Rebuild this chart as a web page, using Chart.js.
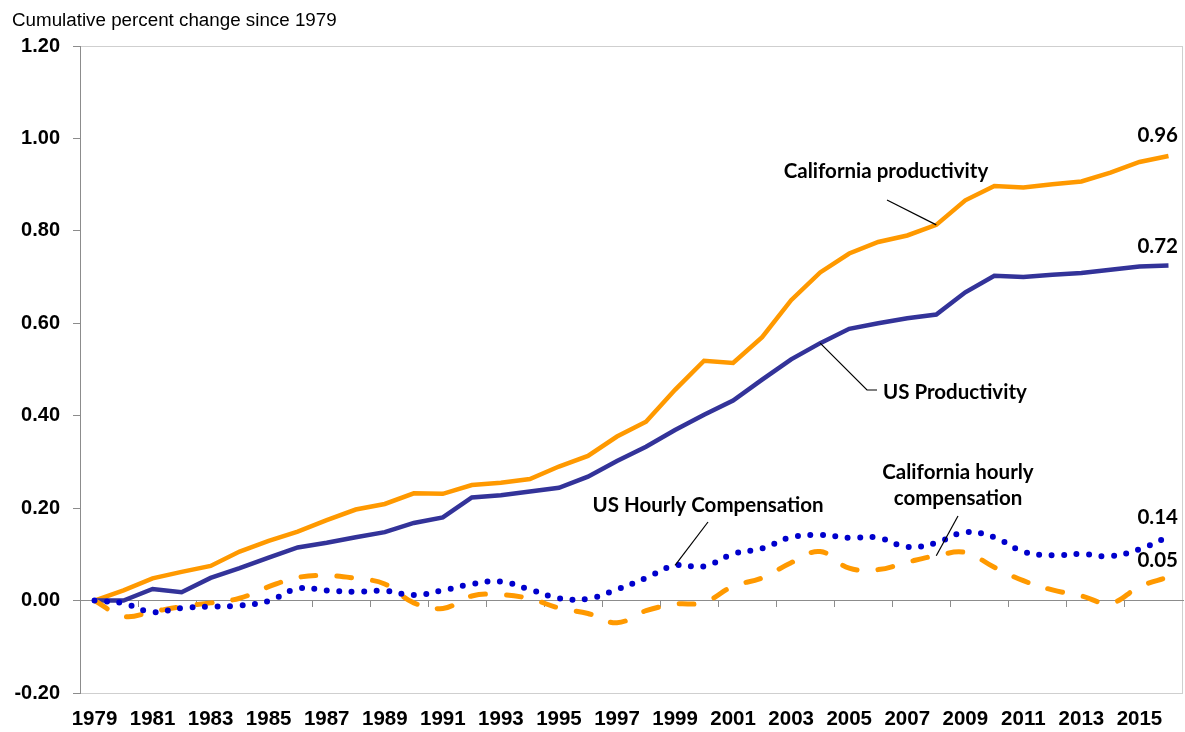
<!DOCTYPE html>
<html>
<head>
<meta charset="utf-8">
<script src="https://cdn.jsdelivr.net/npm/chart.js@4"></script>
<style>
  html, body { margin: 0; padding: 0; background: #fff; }
  #wrap { width: 1185px; height: 732px; position: relative; }
</style>
</head>
<body>
<div id="wrap"><canvas id="chart"></canvas></div>
<script>
// years on the category axis (every other one gets a label)
var years = ['1979', '1980', '1981', '1982', '1983', '1984', '1985', '1986', '1987', '1988',
             '1989', '1990', '1991', '1992', '1993', '1994', '1995', '1996', '1997', '1998',
             '1999', '2000', '2001', '2002', '2003', '2004', '2005', '2006', '2007', '2008',
             '2009', '2010', '2011', '2012', '2013', '2014', '2015', '2016'];

// cumulative change since 1979
var caProductivity = [0, 0.022, 0.048, 0.062, 0.075, 0.106, 0.129, 0.149, 0.174, 0.197,
                      0.209, 0.232, 0.231, 0.250, 0.255, 0.263, 0.290, 0.313, 0.355, 0.387,
                      0.456, 0.519, 0.514, 0.570, 0.650, 0.710, 0.751, 0.776, 0.790, 0.813,
                      0.866, 0.897, 0.894, 0.901, 0.907, 0.926, 0.949, 0.962];
var usProductivity = [0, 0.000, 0.025, 0.018, 0.049, 0.070, 0.093, 0.115, 0.125, 0.137,
                      0.148, 0.168, 0.180, 0.223, 0.228, 0.236, 0.244, 0.268, 0.302, 0.333,
                      0.369, 0.402, 0.433, 0.478, 0.522, 0.557, 0.588, 0.600, 0.611, 0.619,
                      0.667, 0.703, 0.700, 0.705, 0.709, 0.716, 0.723, 0.725];
var usCompensation = [0, -0.006, -0.025, -0.016, -0.013, -0.011, -0.001, 0.026, 0.022, 0.019,
                      0.021, 0.012, 0.022, 0.036, 0.041, 0.024, 0.005, 0.004, 0.024, 0.049,
                      0.076, 0.074, 0.101, 0.113, 0.137, 0.142, 0.136, 0.136, 0.116, 0.125,
                      0.148, 0.137, 0.106, 0.098, 0.101, 0.096, 0.111, 0.138];
var caCompensation = [0, -0.034, -0.024, -0.013, -0.005, 0.005, 0.030, 0.050, 0.054, 0.048,
                      0.036, -0.005, -0.017, 0.010, 0.013, 0.004, -0.016, -0.028, -0.048, -0.022,
                      -0.008, -0.004, 0.031, 0.049, 0.082, 0.106, 0.070, 0.067, 0.083, 0.097,
                      0.104, 0.072, 0.043, 0.023, 0.010, -0.006, 0.030, 0.051];

var yMin = -0.2, yMax = 1.2, yStep = 0.2;

var ORANGE = '#FF9900';
var NAVY = '#333399';
var BLUE = '#0000CC';
var AXIS_GREY = '#8c8c8c';
var FRAME_GREY = '#cfcfcf';
var NOTE_FONT = 'bold 20.5px Lato, "Open Sans", sans-serif';

Chart.defaults.font.family = '"Liberation Sans", Arial, sans-serif';
Chart.defaults.color = '#000';

// light frame round the plot area, drawn before the axes
var framePlugin = {
  id: 'frame',
  beforeDraw: function (chart) {
    var a = chart.chartArea, ctx = chart.ctx;
    ctx.save();
    ctx.strokeStyle = FRAME_GREY;
    ctx.lineWidth = 1;
    ctx.strokeRect(a.left + 0.5, a.top + 0.5, a.right - a.left - 1, a.bottom - a.top);
    ctx.restore();
  }
};

// title, series callouts and end-of-line values
var notesPlugin = {
  id: 'notes',
  afterDatasetsDraw: function (chart) {
    var ctx = chart.ctx, x = chart.scales.x, y = chart.scales.y;
    var pt = function (i, arr) { return [x.getPixelForValue(i), y.getPixelForValue(arr[i])]; };
    var line = function (pts) {
      ctx.beginPath();
      ctx.moveTo(pts[0][0], pts[0][1]);
      for (var k = 1; k < pts.length; k++) ctx.lineTo(pts[k][0], pts[k][1]);
      ctx.stroke();
    };

    ctx.save();
    ctx.fillStyle = '#000';
    ctx.textBaseline = 'middle';
    ctx.font = '18.8px "Liberation Sans", Arial, sans-serif';
    ctx.textAlign = 'left';
    ctx.fillText('Cumulative percent change since 1979', 12, 21);

    ctx.strokeStyle = '#000';
    ctx.lineWidth = 1.2;

    ctx.font = NOTE_FONT;
    ctx.textAlign = 'center';
    ctx.fillText('California productivity', 886, 171);
    line([[887, 200], pt(29, caProductivity)]);

    ctx.textAlign = 'left';
    ctx.fillText('US Productivity', 883, 392);
    line([pt(25, usProductivity), [867, 390], [877, 390]]);

    ctx.textAlign = 'center';
    ctx.fillText('US Hourly Compensation', 708, 505);
    line([[708, 522], pt(20, usCompensation)]);

    ctx.fillText('California hourly', 958, 472);
    ctx.fillText('compensation', 958, 498);
    line([[958, 516], pt(29, caCompensation)]);

    // end values
    ctx.textAlign = 'right';
    var last = years.length - 1;
    [[caProductivity, -21], [usProductivity, -19], [usCompensation, -19], [caCompensation, -17]].forEach(function (s) {
      var p = pt(last, s[0]);
      ctx.fillText(s[0][last].toFixed(2), 1178, p[1] + s[1]);
    });
    ctx.restore();
  }
};

new Chart(document.getElementById('chart'), {
  type: 'line',
  data: {
    labels: years,
    datasets: [
      {
        label: 'US Hourly Compensation',
        data: usCompensation,
        borderColor: BLUE,
        borderWidth: 6,
        borderDash: [0, 12.5],
        borderCapStyle: 'round',
        tension: 0.4,
        pointRadius: 0
      },
      {
        label: 'California hourly compensation',
        data: caCompensation,
        borderColor: ORANGE,
        borderWidth: 5,
        borderDash: [15, 21],
        borderCapStyle: 'round',
        tension: 0.4,
        pointRadius: 0
      },
      {
        label: 'US Productivity',
        data: usProductivity,
        borderColor: NAVY,
        borderWidth: 4.5,
        tension: 0,
        pointRadius: 0
      },
      {
        label: 'California productivity',
        data: caProductivity,
        borderColor: ORANGE,
        borderWidth: 4.5,
        tension: 0,
        pointRadius: 0
      }
    ]
  },
  options: {
    responsive: true,
    maintainAspectRatio: false,
    animation: false,
    devicePixelRatio: 1,
    layout: { padding: { top: 46, right: 2, left: 0, bottom: 0 } },
    plugins: {
      legend: { display: false },
      tooltip: { enabled: false }
    },
    scales: {
      x: {
        type: 'category',
        offset: true,
        grid: { display: false, drawTicks: false },
        border: { display: false },
        ticks: {
          autoSkip: false,
          maxRotation: 0,
          minRotation: 0,
          padding: 14,
          font: { size: 20.5, weight: 'bold' },
          callback: function (v, i) { return i % 2 === 0 ? years[i] : ''; }
        },
        afterFit: function (s) { s.height = 39; }
      },
      // horizontal axis line crossing at zero, ticks every two years
      xZero: {
        type: 'category',
        position: { y: 0 },
        offset: true,
        grid: {
          offset: true,
          drawOnChartArea: false,
          tickLength: 6,
          color: function (c) {
            return (c.index > 0 && c.index % 2 === 0 && c.index < years.length) ? AXIS_GREY : 'rgba(0,0,0,0)';
          }
        },
        border: { color: AXIS_GREY, width: 1 },
        ticks: { display: false }
      },
      y: {
        min: yMin,
        max: yMax,
        grid: { drawOnChartArea: false, tickLength: 7, color: AXIS_GREY },
        border: { color: AXIS_GREY, width: 1 },
        ticks: {
          stepSize: yStep,
          padding: 13,
          font: { size: 20, weight: 'bold' },
          callback: function (v) { return (Math.round(v * 100) / 100).toFixed(2); }
        },
        afterFit: function (s) { s.width = 80; }
      }
    }
  },
  plugins: [framePlugin, notesPlugin]
});
</script>
</body>
</html>
